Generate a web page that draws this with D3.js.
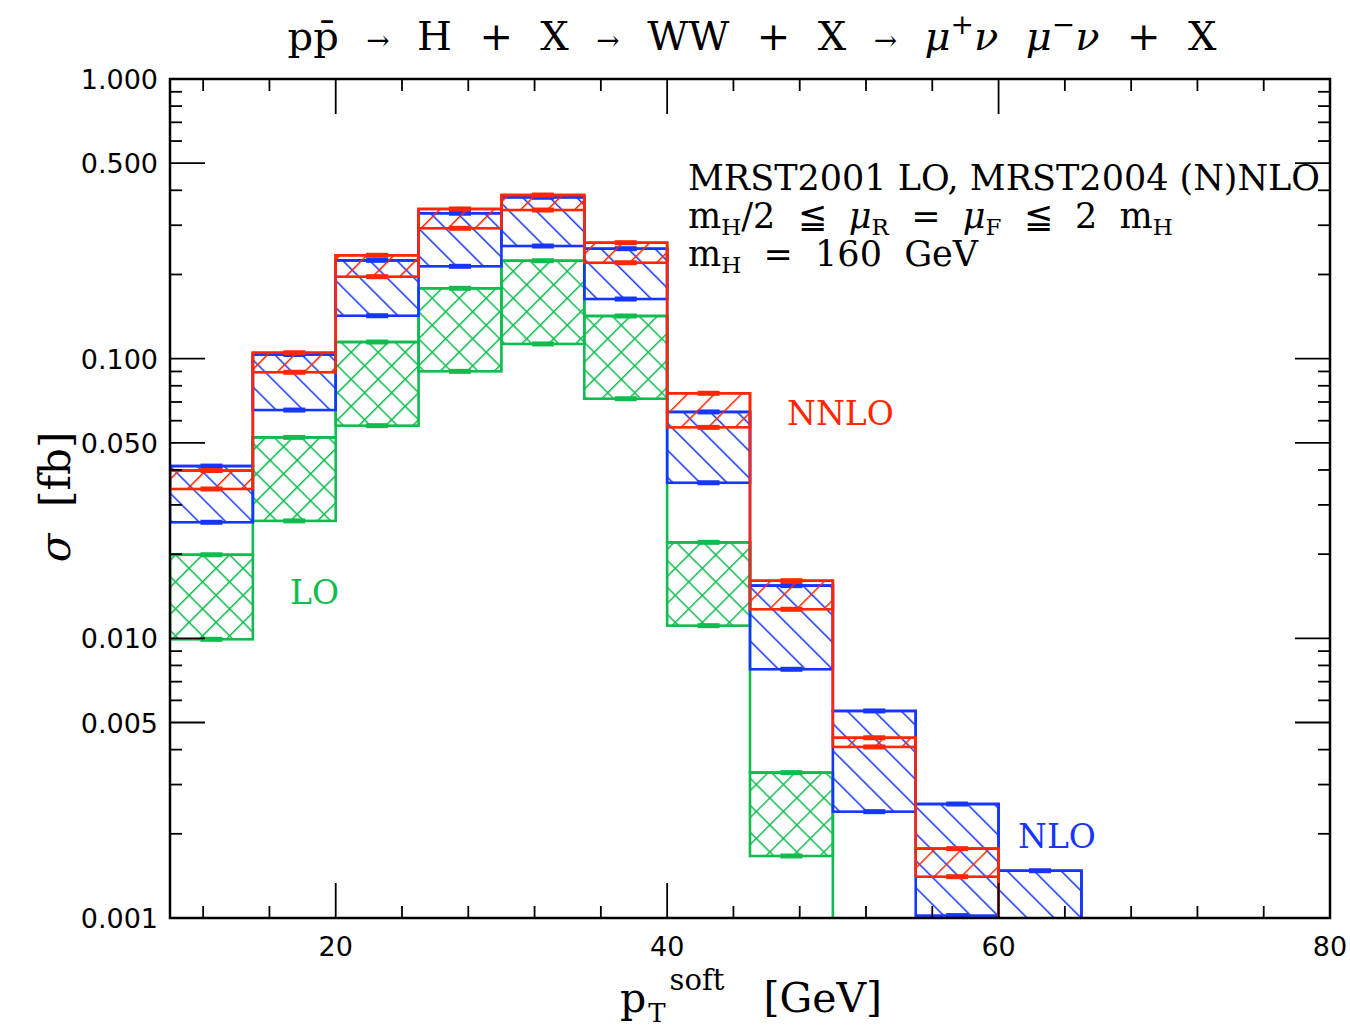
<!DOCTYPE html>
<html>
<head>
<meta charset="utf-8">
<script src="https://cdn.jsdelivr.net/npm/d3@7"></script>
<style>
  body { margin: 0; background: #fff; }
  text { white-space: pre; }
</style>
</head>
<body>
<svg id="chart" width="1350" height="1027"></svg>
<script>
// Bins of p_T^soft [GeV], each 5 GeV wide
const binLow = [10, 15, 20, 25, 30, 35, 40, 45, 50, 55, 60];
const binWidth = 5;

// Scale-variation bands (sigma in fb); null = below the plotted range
const loHigh   = [0.0199, 0.0523, 0.1147, 0.1785, 0.2240, 0.1421, 0.02204, 0.00331, null, null, null];
const loLow    = [0.00992, 0.0263, 0.0576, 0.0901, 0.1129, 0.0719, 0.0111, 0.001666, null, null, null];
const nloHigh  = [0.0413, 0.1035, 0.2247, 0.3311, 0.3776, 0.2473, 0.0645, 0.01543, 0.0055, 0.002556, 0.001476];
const nloLow   = [0.0260, 0.0655, 0.1424, 0.2139, 0.2528, 0.1634, 0.0360, 0.00775, 0.0024, 0.00102, 0.0009];
const nnloHigh = [0.0398, 0.1050, 0.2342, 0.3430, 0.3847, 0.2598, 0.0752, 0.01607, 0.00441, 0.00177, null];
const nnloLow  = [0.0342, 0.0894, 0.1964, 0.2925, 0.3400, 0.2203, 0.0568, 0.0127, 0.00409, 0.001405, null];

// Axis ticks
const yMajorTicks = [1, 0.5, 0.1, 0.05, 0.01, 0.005, 0.001];
const yTickLabels = ["1.000", "0.500", "0.100", "0.050", "0.010", "0.005", "0.001"];
const xMajorTicks = [20, 40, 60, 80];
const xTickLabels = ["20", "40", "60", "80"];

(function () {
const svg = d3.select("#chart");
const pL = 170, pR = 1330, pT = 79, pB = 918;

const x = d3.scaleLinear().domain([10, 80]).range([pL, pR]);
const y = d3.scaleLog().domain([0.001, 1]).range([pB, pT]);

const colors = { lo: "#0fbd4e", nlo: "#1636ff", nnlo: "#ff2600" };

// Hatch patterns
const defs = svg.append("defs");
const hatchStep = 19.1;
function hatch(id, color, rot, cross) {
  const p = defs.append("pattern")
    .attr("id", id).attr("patternUnits", "userSpaceOnUse")
    .attr("width", hatchStep).attr("height", hatchStep)
    .attr("patternTransform", `rotate(${rot})`);
  p.append("line").attr("x1", 0).attr("y1", -1).attr("x2", 0).attr("y2", hatchStep + 1)
    .attr("stroke", color).attr("stroke-width", 3);
  if (cross) {
    p.append("line").attr("x1", -1).attr("y1", 0).attr("x2", hatchStep + 1).attr("y2", 0)
      .attr("stroke", color).attr("stroke-width", 3);
  }
}
hatch("hatchLO", colors.lo, 45, true);
hatch("hatchNLO", colors.nlo, -45, false);
hatch("hatchNNLO", colors.nnlo, 45, false);

defs.append("clipPath").attr("id", "plotClip")
  .append("rect").attr("x", pL).attr("y", pT)
  .attr("width", pR - pL).attr("height", pB - pT);

const plot = svg.append("g").attr("clip-path", "url(#plotClip)");

function drawSeries(high, low, color, patternId) {
  const bins = binLow.map((b, i) => ({ b, hi: high[i], lo: low[i] }))
    .filter(d => d.hi !== null);
  const g = plot.append("g");

  // bands
  g.selectAll("rect.band").data(bins).join("rect")
    .attr("class", "band")
    .attr("x", d => x(d.b))
    .attr("y", d => y(d.hi))
    .attr("width", d => x(d.b + binWidth) - x(d.b))
    .attr("height", d => y(d.lo) - y(d.hi))
    .attr("fill", `url(#${patternId})`)
    .attr("stroke", color).attr("stroke-width", 2.6);

  // upper-envelope step line, dropping to the axis after the last bin
  const last = bins[bins.length - 1];
  const pts = bins.map(d => ({ xv: d.b, v: d.hi }));
  pts.push({ xv: last.b + binWidth, v: 0.001 });
  const line = d3.line().x(d => x(d.xv)).y(d => y(d.v)).curve(d3.curveStepAfter);
  g.append("path").attr("d", line(pts))
    .attr("fill", "none").attr("stroke", color).attr("stroke-width", 2.6);

  // statistical error markers at the band edges
  const marks = [];
  bins.forEach(d => { marks.push({ b: d.b, v: d.hi }); marks.push({ b: d.b, v: d.lo }); });
  g.selectAll("line.err").data(marks.filter(m => m.v >= 0.001)).join("line")
    .attr("class", "err")
    .attr("x1", d => x(d.b + binWidth / 2) - 11)
    .attr("x2", d => x(d.b + binWidth / 2) + 11)
    .attr("y1", d => y(d.v)).attr("y2", d => y(d.v))
    .attr("stroke", color).attr("stroke-width", 5);
}

drawSeries(loHigh, loLow, colors.lo, "hatchLO");
drawSeries(nloHigh, nloLow, colors.nlo, "hatchNLO");
drawSeries(nnloHigh, nnloLow, colors.nnlo, "hatchNNLO");

// Frame and ticks
const axes = svg.append("g").attr("stroke", "#000");
axes.append("rect").attr("x", pL).attr("y", pT)
  .attr("width", pR - pL).attr("height", pB - pT)
  .attr("fill", "none").attr("stroke-width", 2.5);

const majorLen = 35, minorLen = 12;
const yMinor = [];
[0.001, 0.01, 0.1].forEach(dec => [2, 3, 4, 6, 7, 8, 9].forEach(m => yMinor.push(dec * m)));
const yAll = yMajorTicks.map(v => ({ v, len: majorLen })).concat(yMinor.map(v => ({ v, len: minorLen })));
yAll.forEach(t => {
  axes.append("line").attr("x1", pL).attr("x2", pL + t.len)
    .attr("y1", y(t.v)).attr("y2", y(t.v)).attr("stroke-width", 1.8);
  axes.append("line").attr("x1", pR).attr("x2", pR - t.len)
    .attr("y1", y(t.v)).attr("y2", y(t.v)).attr("stroke-width", 1.8);
});
const xMinor = d3.range(12, 80, 4).filter(v => v % 20 !== 0);
const xAll = xMajorTicks.map(v => ({ v, len: majorLen })).concat(xMinor.map(v => ({ v, len: minorLen })));
xAll.forEach(t => {
  axes.append("line").attr("x1", x(t.v)).attr("x2", x(t.v))
    .attr("y1", pB).attr("y2", pB - t.len).attr("stroke-width", 1.8);
  axes.append("line").attr("x1", x(t.v)).attr("x2", x(t.v))
    .attr("y1", pT).attr("y2", pT + t.len).attr("stroke-width", 1.8);
});

// Tick labels
const tickFont = "'DejaVu Sans', sans-serif";
svg.append("g").selectAll("text").data(yMajorTicks).join("text")
  .attr("x", pL - 12).attr("y", d => y(d) + 10)
  .attr("text-anchor", "end").attr("font-family", tickFont).attr("font-size", 27)
  .text((d, i) => yTickLabels[i]);
svg.append("g").selectAll("text").data(xMajorTicks).join("text")
  .attr("x", d => x(d)).attr("y", pB + 38)
  .attr("text-anchor", "middle").attr("font-family", tickFont).attr("font-size", 27)
  .text((d, i) => xTickLabels[i]);

const serif = "'DejaVu Serif', serif";

// Title
const title = svg.append("text").attr("x", 752).attr("y", 50)
  .attr("text-anchor", "middle").attr("font-family", serif).attr("font-size", 40)
  .attr("word-spacing", 1);
title.append("tspan").text("pp\u0304  ");
title.append("tspan").attr("font-size", 28).text("→");
title.append("tspan").text("  H  +  X  ");
title.append("tspan").attr("font-size", 28).text("→");
title.append("tspan").text("  WW  +  X  ");
title.append("tspan").attr("font-size", 28).text("→");
title.append("tspan").text("  ");
title.append("tspan").attr("font-style", "italic").text("μ");
title.append("tspan").attr("font-size", 28).attr("dy", -16).text("+");
title.append("tspan").attr("font-style", "italic").attr("dy", 16).text("ν  ");
title.append("tspan").attr("font-style", "italic").text("μ");
title.append("tspan").attr("font-size", 28).attr("dy", -16).text("−");
title.append("tspan").attr("font-style", "italic").attr("dy", 16).text("ν");
title.append("tspan").text("  +  X");

// Axis titles
const ylab = svg.append("text").attr("transform", "translate(70,497) rotate(-90)")
  .attr("text-anchor", "middle").attr("font-family", serif).attr("font-size", 42);
ylab.append("tspan").attr("font-style", "italic").text("σ");
ylab.append("tspan").text("  [fb]");

const xlab = svg.append("text").attr("x", 620).attr("y", 1012)
  .attr("font-family", serif).attr("font-size", 41);
xlab.append("tspan").text("p");
xlab.append("tspan").attr("font-size", 26).attr("dy", 10).attr("dx", 2).text("T");
xlab.append("tspan").attr("font-size", 29).attr("dy", -32).attr("dx", 4).text("soft");
xlab.append("tspan").attr("dy", 22).text("   [GeV]");

// Annotation
const annFont = 35;
const sub = 23;
svg.append("text").attr("x", 688).attr("y", 190)
  .attr("font-family", serif).attr("font-size", annFont)
  .text("MRST2001 LO, MRST2004 (N)NLO");
const a2 = svg.append("text").attr("x", 688).attr("y", 228)
  .attr("font-family", serif).attr("font-size", annFont);
a2.append("tspan").text("m");
a2.append("tspan").attr("font-size", sub).attr("dy", 7).text("H");
a2.append("tspan").attr("dy", -7).text("/2  ≦  ");
a2.append("tspan").attr("font-style", "italic").text("μ");
a2.append("tspan").attr("font-size", sub).attr("dy", 7).text("R");
a2.append("tspan").attr("dy", -7).text("  =  ");
a2.append("tspan").attr("font-style", "italic").text("μ");
a2.append("tspan").attr("font-size", sub).attr("dy", 7).text("F");
a2.append("tspan").attr("dy", -7).text("  ≦  2  m");
a2.append("tspan").attr("font-size", sub).attr("dy", 7).text("H");
const a3 = svg.append("text").attr("x", 688).attr("y", 266)
  .attr("font-family", serif).attr("font-size", annFont);
a3.append("tspan").text("m");
a3.append("tspan").attr("font-size", sub).attr("dy", 7).text("H");
a3.append("tspan").attr("dy", -7).text("  =  160  GeV");

// Series labels
const lab = [
  { t: "LO", x: 290, y: 604, c: colors.lo },
  { t: "NNLO", x: 787, y: 425, c: colors.nnlo },
  { t: "NLO", x: 1018, y: 848, c: colors.nlo }
];
svg.append("g").selectAll("text").data(lab).join("text")
  .attr("x", d => d.x).attr("y", d => d.y)
  .attr("font-family", serif).attr("font-size", 33)
  .attr("fill", d => d.c).text(d => d.t);
})();
</script>
</body>
</html>
